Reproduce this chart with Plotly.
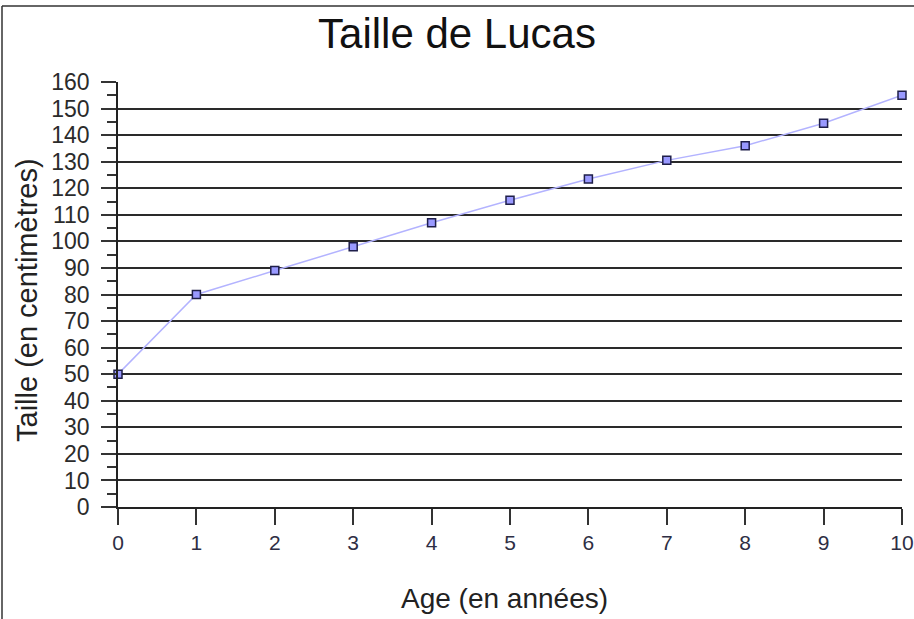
import plotly.graph_objects as go

ages = [0, 1, 2, 3, 4, 5, 6, 7, 8, 9, 10]
tailles = [50, 80, 89, 98, 107, 115.5, 123.5, 130.5, 136, 144.5, 155]
y_ticks = list(range(0, 161, 10))
x_ticks = list(range(0, 11, 1))

title_text = "Taille de Lucas"
x_title = "Age (en années)"
y_title = "Taille (en centimètres)"

FONT = "Liberation Sans, Arial, sans-serif"

fig = go.Figure()
fig.add_trace(go.Scatter(
    x=ages, y=tailles, mode="lines+markers",
    line=dict(color="#b3b3ff", width=1.5),
    marker=dict(symbol="square", size=8, color="#9999ff",
                line=dict(color="#1f1f4a", width=1.5)),
    cliponaxis=False, showlegend=False,
))

W, H = 914, 619
L, R, T, B = 118, 12, 82, 112
pw, ph = W - L - R, H - T - B

def px_x(p):
    return (p - L) / pw

def px_y(p):
    return (H - B - p) / ph

fig.update_layout(
    template="none",
    width=W, height=H,
    margin=dict(l=L, r=R, t=T, b=B, autoexpand=False),
    paper_bgcolor="white", plot_bgcolor="white",
    font=dict(family=FONT, color="#333333"),
    title=dict(text=title_text, x=0.5, xanchor="center", y=1 - 33 / H,
               yanchor="middle", yref="container",
               font=dict(family=FONT, size=42, color="#111111")),
    xaxis=dict(range=[0, 10], tickvals=x_ticks, showgrid=False, zeroline=False,
               automargin=False,
               showline=True, linecolor="#222222", linewidth=1.5,
               ticks="outside", ticklen=16, tickwidth=1.5, tickcolor="#333333",
               tickfont=dict(size=21, color="#2e2e44"), fixedrange=True),
    yaxis=dict(range=[0, 160], tickvals=y_ticks, showgrid=True,
               automargin=False,
               gridcolor="#2a2a2a", gridwidth=1.5, zeroline=False,
               showline=True, linecolor="#222222", linewidth=1.5,
               ticks="outside", ticklen=15, tickwidth=1.5, tickcolor="#333333",
               tickfont=dict(size=23, color="#2b2b2b"), ticklabelstandoff=7,
               minor=dict(tickvals=list(range(5, 160, 10)), ticks="outside",
                          ticklen=9, tickwidth=1.5, tickcolor="#333333", showgrid=False),
               fixedrange=True),
    annotations=[
        dict(text=x_title, xref="paper", yref="paper", x=px_x(504), y=px_y(598),
             xanchor="center", yanchor="middle", showarrow=False,
             font=dict(family=FONT, size=28, color="#222222")),
        dict(text=y_title, xref="paper", yref="paper", x=px_x(27), y=px_y(300),
             xanchor="center", yanchor="middle", showarrow=False, textangle=-90,
             font=dict(family=FONT, size=29, color="#222222")),
    ],
    shapes=[
        dict(type="line", xref="paper", yref="paper", x0=px_x(2), x1=px_x(914),
             y0=px_y(6), y1=px_y(6), line=dict(color="#333333", width=1.5)),
        dict(type="line", xref="paper", yref="paper", x0=px_x(2), x1=px_x(2),
             y0=px_y(6), y1=px_y(619), line=dict(color="#333333", width=1.5)),
    ],
)

fig.write_html("out.html", config={"displayModeBar": False},
               post_script="document.body.style.margin='0';document.body.style.overflow='hidden';")
